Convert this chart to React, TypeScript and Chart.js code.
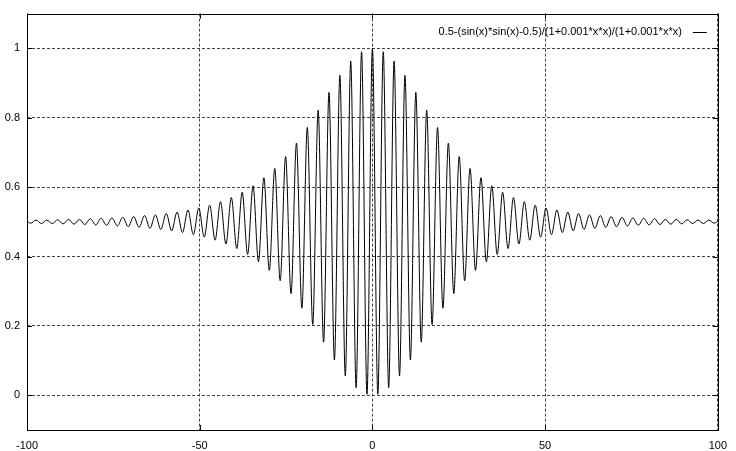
import React, { useEffect, useRef } from "react";
import { Chart, registerables } from "chart.js";

Chart.register(...registerables);

const seriesLabel = "0.5-(sin(x)*sin(x)-0.5)/(1+0.001*x*x)/(1+0.001*x*x)";

// Curve extremes (peaks and troughs), left to right
const xValues = [
  -100, -98.96, -97.39, -95.82, -94.25, -92.68, -91.11, -89.54, -87.96, -86.39,
  -84.82, -83.25, -81.68, -80.11, -78.54, -76.97, -75.4, -73.83, -72.26, -70.69,
  -69.12, -67.54, -65.97, -64.4, -62.83, -61.26, -59.69, -58.12, -56.55, -54.98,
  -53.41, -51.84, -50.27, -48.69, -47.12, -45.55, -43.98, -42.41, -40.84, -39.27,
  -37.7, -36.13, -34.56, -32.99, -31.42, -29.85, -28.27, -26.7, -25.13, -23.56,
  -21.99, -20.42, -18.85, -17.28, -15.71, -14.14, -12.57, -11.0, -9.42, -7.85,
  -6.28, -4.71, -3.14, -1.57, 0,
  1.57, 3.14, 4.71, 6.28, 7.85, 9.42, 11.0, 12.57, 14.14, 15.71,
  17.28, 18.85, 20.42, 21.99, 23.56, 25.13, 26.7, 28.27, 29.85, 31.42,
  32.99, 34.56, 36.13, 37.7, 39.27, 40.84, 42.41, 43.98, 45.55, 47.12,
  48.69, 50.27, 51.84, 53.41, 54.98, 56.55, 58.12, 59.69, 61.26, 62.83,
  64.4, 65.97, 67.54, 69.12, 70.69, 72.26, 73.83, 75.4, 76.97, 78.54,
  80.11, 81.68, 83.25, 84.82, 86.39, 87.96, 89.54, 91.11, 92.68, 94.25,
  95.82, 97.39, 98.96, 100,
];

const yValues = [
  0.502, 0.496, 0.505, 0.495, 0.505, 0.495, 0.506, 0.494, 0.507, 0.493,
  0.507, 0.492, 0.509, 0.491, 0.51, 0.49, 0.511, 0.488, 0.513, 0.486,
  0.515, 0.484, 0.518, 0.481, 0.52, 0.478, 0.524, 0.474, 0.528, 0.469,
  0.534, 0.463, 0.54, 0.456, 0.548, 0.447, 0.558, 0.436, 0.57, 0.423,
  0.585, 0.406, 0.604, 0.385, 0.627, 0.36, 0.654, 0.33, 0.688, 0.293,
  0.727, 0.251, 0.772, 0.204, 0.822, 0.153, 0.873, 0.102, 0.922, 0.056,
  0.963, 0.022, 0.99, 0.003, 1.0,
  0.003, 0.99, 0.022, 0.963, 0.056, 0.922, 0.102, 0.873, 0.153, 0.822,
  0.204, 0.772, 0.251, 0.727, 0.293, 0.688, 0.33, 0.654, 0.36, 0.627,
  0.385, 0.604, 0.406, 0.585, 0.423, 0.57, 0.436, 0.558, 0.447, 0.548,
  0.456, 0.54, 0.463, 0.534, 0.469, 0.528, 0.474, 0.524, 0.478, 0.52,
  0.481, 0.518, 0.484, 0.515, 0.486, 0.513, 0.488, 0.511, 0.49, 0.51,
  0.491, 0.509, 0.492, 0.507, 0.493, 0.507, 0.494, 0.506, 0.495, 0.505,
  0.495, 0.505, 0.496, 0.502,
];

const xTicks = [-100, -50, 0, 50, 100];
const yTicks = [0, 0.2, 0.4, 0.6, 0.8, 1];

const FONT = "'Liberation Sans', Arial, sans-serif";

export default function App() {
  const ref = useRef<HTMLCanvasElement>(null);

  useEffect(() => {
    document.body.style.margin = "0";
    const canvas = ref.current;
    if (!canvas) return;

    const framePlugin = {
      id: "gnuFrame",
      afterDraw(chart: any) {
        const { ctx, chartArea } = chart;
        const { left, right, top, bottom } = chartArea;
        ctx.save();
        ctx.strokeStyle = "#000";
        ctx.lineWidth = 1;
        ctx.setLineDash([]);
        // inward tick marks
        const xs = chart.scales.x;
        const ys = chart.scales.y;
        ctx.beginPath();
        xTicks.forEach((v) => {
          const px = Math.round(xs.getPixelForValue(v)) + 0.5;
          ctx.moveTo(px, bottom);
          ctx.lineTo(px, bottom - 5);
          ctx.moveTo(px, top);
          ctx.lineTo(px, top + 5);
        });
        yTicks.forEach((v) => {
          const py = Math.round(ys.getPixelForValue(v)) + 0.5;
          ctx.moveTo(left, py);
          ctx.lineTo(left + 5, py);
          ctx.moveTo(right, py);
          ctx.lineTo(right - 5, py);
        });
        ctx.stroke();
        ctx.strokeRect(
          Math.round(left) + 0.5,
          Math.round(top) + 0.5,
          Math.round(right - left),
          Math.round(bottom - top)
        );
        // key
        const label = chart.data.datasets[0].label as string;
        ctx.font = `11px ${FONT}`;
        ctx.fillStyle = "#000";
        ctx.textAlign = "right";
        ctx.textBaseline = "middle";
        const ky = Math.round(top + 18);
        ctx.fillText(label, right - 36, ky);
        ctx.beginPath();
        ctx.moveTo(right - 25, ky + 0.5);
        ctx.lineTo(right - 11, ky + 0.5);
        ctx.stroke();
        ctx.restore();
      },
    };

    const chart = new Chart(canvas, {
      type: "line",
      data: {
        datasets: [
          {
            label: seriesLabel,
            data: xValues.map((x, i) => ({ x, y: yValues[i] })),
            borderColor: "#000",
            borderWidth: 1,
            pointRadius: 0,
            fill: false,
            cubicInterpolationMode: "monotone",
          },
        ],
      },
      options: {
        responsive: false,
        animation: false,
        devicePixelRatio: 1,
        layout: { padding: { top: 12, right: 18, left: 0, bottom: 0 } },
        plugins: { legend: { display: false }, tooltip: { enabled: false } },
        scales: {
          x: {
            type: "linear",
            min: -100,
            max: 100,
            afterBuildTicks: (s: any) => {
              s.ticks = xTicks.map((v) => ({ value: v }));
            },
            afterFit: (s: any) => {
              s.height = 21;
            },
            grid: { color: "#444", lineWidth: 1, drawTicks: false },
            border: { display: false, dash: [3, 2] },
            ticks: {
              padding: 9,
              color: "#000",
              font: { family: FONT, size: 11 },
              maxRotation: 0,
              callback: (v: any) => String(v),
            },
          },
          y: {
            type: "linear",
            min: -0.1,
            max: 1.1,
            afterBuildTicks: (s: any) => {
              s.ticks = yTicks.map((v) => ({ value: v }));
            },
            afterFit: (s: any) => {
              s.width = 27;
            },
            grid: { color: "#444", lineWidth: 1, drawTicks: false },
            border: { display: false, dash: [3, 2] },
            ticks: {
              padding: 7,
              color: "#000",
              font: { family: FONT, size: 11 },
              callback: (v: any) => String(v),
            },
          },
        },
      },
      plugins: [framePlugin],
    });

    return () => chart.destroy();
  }, []);

  return (
    <div style={{ width: 736, height: 451 }}>
      <canvas ref={ref} width={736} height={451} style={{ display: "block", width: 736, height: 451 }} />
    </div>
  );
}
